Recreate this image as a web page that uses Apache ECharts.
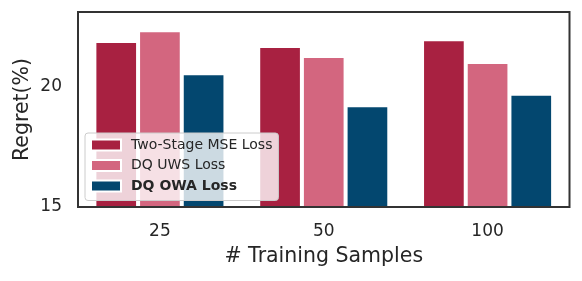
<!DOCTYPE html>
<html>
<head>
<meta charset="utf-8">
<script src="https://cdn.jsdelivr.net/npm/echarts@6/dist/echarts.min.js"></script>
<style>
html,body{margin:0;padding:0;background:#fff;}
#chart{width:582px;height:281px;}
</style>
</head>
<body>
<div id="chart"></div>
<script>
const categories = ['25', '50', '100'];
const twoStageMSE = [21.92, 21.71, 21.99];
const dqUWS = [22.36, 21.29, 21.04];
const dqOWA = [20.57, 19.24, 19.72];
const seriesNames = ['Two-Stage MSE Loss', 'DQ UWS Loss', 'DQ OWA Loss'];
const yTicksMin = 15;
const yTicksMax = 23.125;

const font = 'DejaVu Sans';
const textColor = '#262626';
const colors = ['#A82141', '#D3667F', '#03476F'];

const chart = echarts.init(document.getElementById('chart'), null, {renderer: 'canvas'});
const mk = (name, data, i) => ({
  name: name,
  type: 'bar',
  data: data,
  barGap: '0%',
  barCategoryGap: '20%',
  itemStyle: {color: colors[i], borderColor: '#ffffff', borderWidth: 2},
  emphasis: {disabled: true}
});
chart.setOption({
  animation: false,
  textStyle: {fontFamily: font},
  grid: {left: 78, top: 12, right: 12.5, bottom: 74, show: true, z: 3, borderColor: '#333333', borderWidth: 2, backgroundColor: 'transparent'},
  legend: {
    orient: 'vertical',
    left: 85, top: 133,
    padding: [5, 6, 7.5, 5],
    itemWidth: 30, itemHeight: 11, itemGap: 6.5,
    icon: 'rect',
    backgroundColor: 'rgba(255,255,255,0.8)',
    borderColor: '#cccccc', borderWidth: 1, borderRadius: 3,
    textStyle: {fontFamily: font, fontSize: 14, color: textColor, lineHeight: 14, padding: [0, 0, 0, 5]},
    data: [
      {name: seriesNames[0]},
      {name: seriesNames[1]},
      {name: seriesNames[2], textStyle: {fontWeight: 'bold'}}
    ]
  },
  xAxis: {
    type: 'category',
    data: categories,
    name: '# Training Samples',
    nameLocation: 'middle',
    nameGap: 39,
    nameMoveOverlap: false,
    nameTextStyle: {fontFamily: font, fontSize: 20.5, color: textColor},
    axisLine: {show: false},
    axisTick: {show: false},
    axisLabel: {fontFamily: font, fontSize: 17, color: textColor, margin: 16}
  },
  yAxis: {
    type: 'value',
    min: yTicksMin, max: yTicksMax, interval: 5,
    name: 'Regret(%)',
    nameLocation: 'middle',
    nameGap: 45,
    nameMoveOverlap: false,
    nameTextStyle: {fontFamily: font, fontSize: 20.5, color: textColor},
    axisLine: {show: false},
    axisTick: {show: false},
    splitLine: {show: false},
    axisLabel: {fontFamily: font, fontSize: 17, color: textColor, margin: 16, showMaxLabel: false}
  },
  series: [mk(seriesNames[0], twoStageMSE, 0), mk(seriesNames[1], dqUWS, 1), mk(seriesNames[2], dqOWA, 2)]
});
</script>
</body>
</html>
